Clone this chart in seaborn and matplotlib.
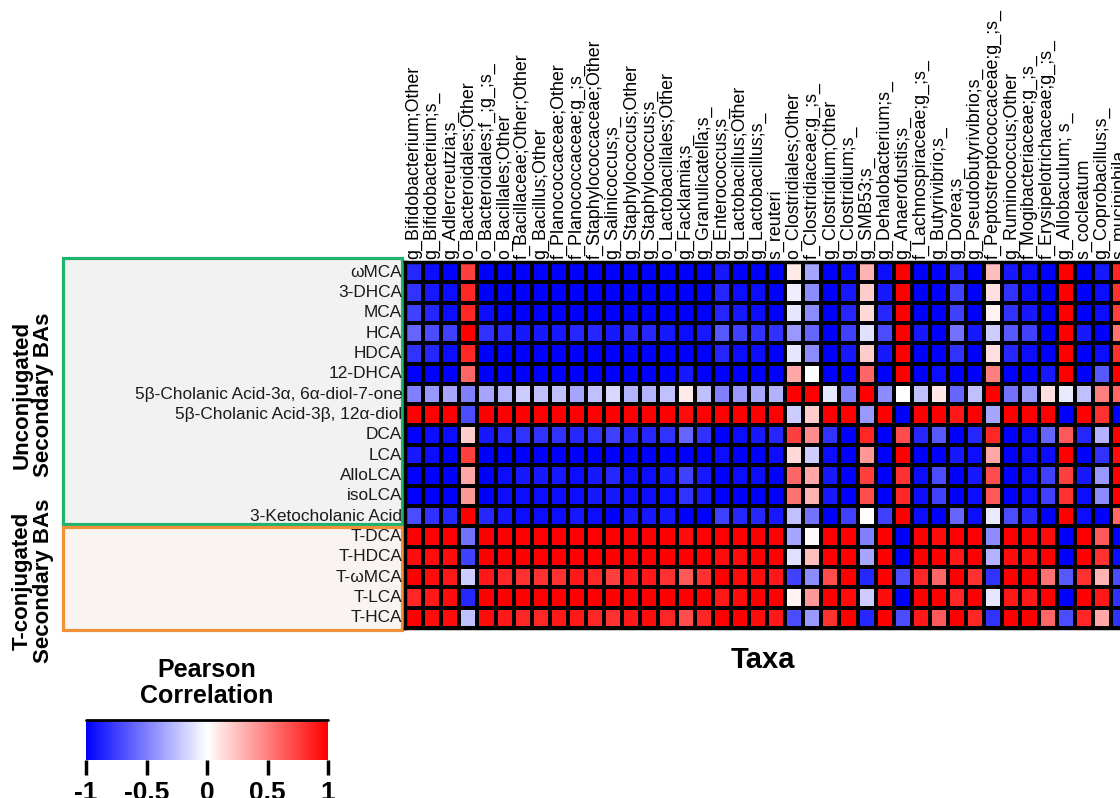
import numpy as np
import pandas as pd
import matplotlib
matplotlib.use("Agg")
import matplotlib.pyplot as plt
from matplotlib.patches import Rectangle
import seaborn as sns

# taxa along the top (the right-most ones run off the page in the original)
taxa = [
    "g_Bifidobacterium;Other", "g_Bifidobacterium;s_", "g_Adlercreutzia;s_",
    "o_Bacteroidales;Other", "o_Bacteroidales;f_;g_;s_", "o_Bacillales;Other",
    "f_Bacillaceae;Other;Other", "g_Bacillus;Other", "f_Planococcaceae;Other",
    "f_Planococcaceae;g_;s_", "f_Staphylococcaceae;Other", "g_Salinicoccus;s_",
    "g_Staphylococcus;Other", "g_Staphylococcus;s_", "o_Lactobacillales;Other",
    "g_Facklamia;s_", "g_Granulicatella;s_", "g_Enterococcus;s_",
    "g_Lactobacillus;Other", "g_Lactobacillus;s_", "s_reuteri",
    "o_Clostridiales;Other", "f_Clostridiaceae;g_;s_", "g_Clostridium;Other",
    "g_Clostridium;s_", "g_SMB53;s_", "g_Dehalobacterium;s_", "g_Anaerofustis;s_",
    "f_Lachnospiraceae;g_;s_", "g_Butyrivibrio;s_", "g_Dorea;s_",
    "g_Pseudobutyrivibrio;s_", "f_Peptostreptococcaceae;g_;s_",
    "g_Ruminococcus;Other", "f_Mogibacteriaceae;g_;s_",
    "f_Erysipelotrichaceae;g_;s_", "g_Allobaculum; s_", "s_cocleatum",
    "g_Coprobacillus;s_", "s_muciniphila",
]

bile_acids = [
    "ωMCA", "3-DHCA", "MCA", "HCA", "HDCA", "12-DHCA",
    "5β-Cholanic Acid-3α, 6α-diol-7-one", "5β-Cholanic Acid-3β, 12α-diol",
    "DCA", "LCA", "AlloLCA", "isoLCA", "3-Ketocholanic Acid",
    "T-DCA", "T-HDCA", "T-ωMCA", "T-LCA", "T-HCA",
]

# Pearson r, one list per bile acid
wmca = [-0.85, -0.95, -1, 0.75, -1, -1, -1, -1, -1, -1, -1, -1, -1, -1, -1, -1, -1, -0.9, -1, -1,
        -1, 0.08, -0.35, -1, -0.95, 0.3, -0.95, 1, -1, -1, -0.85, -1, 0.25, -0.9, -0.95, -1, 1, -1, -0.9, 0.85]
dhca3 = [-0.8, -0.9, -0.95, 0.85, -1, -1, -1, -1, -1, -1, -1, -1, -1, -1, -1, -1, -1, -0.85, -0.95, -0.95,
         -1, -0.07, -0.45, -1, -0.9, 0.2, -0.9, 1, -1, -1, -0.75, -1, 0.12, -0.8, -0.95, -1, 1, -1, -0.95, 0.8]
mca = [-0.75, -0.85, -0.95, 0.85, -0.95, -1, -1, -1, -1, -1, -1, -1, -1, -1, -1, -1, -1, -0.85, -0.9, -0.95,
       -1, -0.1, -0.45, -1, -0.85, 0.15, -0.85, 1, -1, -1, -0.75, -1, 0.05, -0.8, -0.9, -1, 1, -1, -0.95, 0.75]
hca = [-0.6, -0.7, -0.75, 1, -0.8, -0.85, -0.9, -0.9, -0.9, -0.85, -0.85, -0.9, -0.85, -0.85, -0.9, -0.95, -0.9, -0.65, -0.75, -0.8,
       -0.8, -0.4, -0.6, -1, -0.75, -0.12, -0.7, 1, -0.9, -1, -0.55, -0.9, -0.2, -0.65, -0.75, -1, 1, -0.9, -1, 0.55]
hdca = [-0.8, -0.85, -0.95, 0.85, -1, -1, -1, -1, -1, -1, -1, -1, -1, -1, -1, -1, -1, -0.85, -0.95, -0.95,
        -1, -0.1, -0.45, -1, -0.9, 0.2, -0.9, 1, -1, -1, -0.8, -1, 0.12, -0.85, -0.95, -1, 1, -1, -0.95, 0.8]
dhca12 = [-1, -1, -1, 0.6, -1, -1, -1, -1, -1, -1, -1, -1, -1, -1, -1, -0.9, -1, -1, -1, -1,
          -1, 0.35, 0.0, -1, -1, 0.6, -1, 1, -1, -0.95, -1, -1, 0.5, -1, -1, -0.9, 1, -1, -0.65, 1]
chol_7one = [-0.5, -0.4, -0.35, -0.5, -0.35, -0.3, -0.2, -0.25, -0.25, -0.35, -0.25, -0.15, -0.3, -0.3, -0.25, 0.08, -0.25, -0.5, -0.4, -0.35,
             -0.3, 1, 1, -0.1, -0.5, 1, -0.45, 0.0, -0.25, 0.1, -0.6, -0.25, 1, -0.55, -0.4, 0.12, -0.08, -0.25, 0.5, 0.6]
chol_diol = [1, 1, 1, -0.7, 1, 1, 1, 1, 1, 1, 1, 1, 1, 1, 1, 0.95, 1, 1, 1, 1,
             1, -0.2, 0.2, 1, 1, -0.4, 1, -1, 1, 1, 0.9, 1, -0.35, 1, 1, 1, -1, 1, 0.8, -1]
dca = [-1, -0.95, -0.95, 0.2, -0.9, -0.85, -0.8, -0.8, -0.8, -0.85, -0.8, -0.75, -0.85, -0.85, -0.8, -0.6, -0.8, -1, -0.95, -0.9,
       -0.85, 0.75, 0.45, -0.8, -1, 0.85, -1, 0.7, -0.85, -0.65, -1, -0.85, 0.85, -1, -0.95, -0.6, 0.65, -0.85, -0.3, 1]
lca = [-0.9, -0.95, -1, 0.75, -1, -1, -1, -1, -1, -1, -1, -1, -1, -1, -1, -1, -1, -0.95, -1, -1,
       -0.95, 0.15, -0.2, -0.95, -1, 0.4, -1, 1, -1, -1, -0.9, -0.95, 0.35, -1, -0.95, -0.95, 1, -1, -0.8, 0.95]
allolca = [-1, -1, -1, 0.35, -1, -0.95, -0.9, -0.9, -0.9, -0.95, -0.9, -0.85, -0.95, -0.95, -0.9, -0.75, -0.9, -1, -0.95, -0.95,
           -1, 0.6, 0.35, -0.9, -1, 0.75, -1, 0.8, -0.95, -0.7, -1, -0.9, 0.7, -1, -0.95, -0.75, 0.75, -0.9, -0.4, 1]
isolca = [-1, -1, -1, 0.4, -1, -0.95, -0.95, -0.95, -0.95, -0.95, -0.9, -0.9, -0.95, -0.95, -0.95, -0.8, -0.9, -1, -1, -1,
          -1, 0.55, 0.3, -0.9, -1, 0.7, -1, 0.85, -0.95, -0.75, -1, -0.95, 0.65, -1, -0.95, -0.75, 0.8, -0.95, -0.45, 1]
keto = [-0.7, -0.8, -0.85, 1, -0.85, -0.9, -0.95, -0.95, -0.95, -0.9, -0.95, -1, -0.9, -0.9, -0.9, -1, -1, -0.75, -0.85, -0.85,
        -0.9, -0.25, -0.55, -1, -0.75, 0.0, -0.75, 1, -0.95, -1, -0.6, -0.95, -0.08, -0.7, -0.85, -1, 1, -0.95, -1, 0.6]
t_dca = [1, 1, 1, -0.55, 1, 1, 1, 1, 1, 1, 1, 1, 1, 1, 1, 0.95, 1, 1, 1, 1,
         1, -0.35, 0.02, 1, 1, -0.5, 1, -1, 1, 0.95, 1, 1, -0.45, 1, 1, 0.95, -1, 1, 0.65, -1]
t_hdca = [0.95, 0.95, 0.95, -0.75, 1, 1, 1, 1, 1, 1, 1, 1, 1, 1, 1, 1, 1, 0.95, 0.95, 1,
          1, -0.12, 0.25, 1, 1, -0.35, 1, -1, 1, 1, 0.9, 1, -0.3, 0.95, 0.95, 1, -1, 1, 0.8, -0.95]
t_wmca = [1, 0.95, 0.9, -0.2, 0.9, 0.85, 0.8, 0.8, 0.8, 0.9, 0.85, 0.75, 0.9, 0.9, 0.8, 0.65, 0.8, 1, 0.95, 0.95,
          0.9, -0.75, -0.45, 0.7, 1, -0.85, 1, -0.7, 0.85, 0.6, 1, 0.8, -0.8, 1, 1, 0.55, -0.65, 0.8, 0.3, -0.7]
t_lca = [0.85, 0.9, 0.95, -0.85, 1, 1, 1, 1, 1, 1, 1, 1, 1, 1, 1, 1, 1, 0.9, 0.95, 1,
         1, 0.05, 0.4, 1, 0.95, -0.2, 0.95, -1, 1, 1, 0.85, 1, -0.1, 0.9, 0.9, 1, -1, 1, 0.9, -0.8]
t_hca = [1, 0.95, 0.95, -0.25, 0.95, 0.9, 0.85, 0.85, 0.9, 0.9, 0.85, 0.8, 0.9, 0.95, 0.85, 0.7, 0.85, 1, 1, 0.95,
         0.9, -0.7, -0.4, 0.8, 1, -0.85, 1, -0.7, 0.9, 0.65, 1, 0.85, -0.8, 1, 1, 0.6, -0.7, 0.85, 0.35, -0.8]


def main():
    rows = [wmca, dhca3, mca, hca, hdca, dhca12, chol_7one, chol_diol, dca, lca,
            allolca, isolca, keto, t_dca, t_hdca, t_wmca, t_lca, t_hca]
    df = pd.DataFrame(rows, index=bile_acids, columns=taxa)

    sns.set_theme(style="white")
    plt.rcParams["font.family"] = ["Liberation Sans", "DejaVu Sans"]
    plt.rcParams["text.color"] = "black"
    plt.rcParams["xtick.color"] = "black"
    plt.rcParams["ytick.color"] = "black"
    plt.rcParams["xtick.labelcolor"] = "black"
    plt.rcParams["ytick.labelcolor"] = "black"

    W, H = 1120, 798
    fig = plt.figure(figsize=(W / 100, H / 100), dpi=100)

    def box(x0, y0, x1, y1):
        # pixel box (top-left origin) -> figure fraction rect
        return [x0 / W, 1 - y1 / H, (x1 - x0) / W, (y1 - y0) / H]

    ax = fig.add_axes(box(405, 262, 1129, 628))
    cax = fig.add_axes(box(86, 720, 328, 760))

    sns.heatmap(df, ax=ax, cmap="bwr", vmin=-1, vmax=1,
                linewidths=1.5, linecolor="black",
                cbar_ax=cax,
                cbar_kws={"orientation": "horizontal", "ticks": [-1, -0.5, 0, 0.5, 1]})

    # taxa labels on top
    ax.xaxis.set_ticks_position("top")
    ax.set_xticks(np.arange(len(taxa)) + 0.5)
    ax.set_xticklabels(taxa, rotation=90, fontsize=12.9, color="black")
    ax.set_yticks(np.arange(len(bile_acids)) + 0.5)
    ax.set_yticklabels(bile_acids, rotation=0, fontsize=12.4, color="#1a1a1a")
    ax.tick_params(axis="both", length=0, pad=2)
    ax.set_xlabel("")
    ax.set_ylabel("")
    for s in ax.spines.values():
        s.set_visible(True)
        s.set_color("black")
        s.set_linewidth(2.5)

    # group boxes behind the row labels
    g = box(63, 258, 402, 524)
    fig.add_artist(Rectangle((g[0], g[1]), g[2], g[3], transform=fig.transFigure,
                             facecolor="#f2f2f2", edgecolor="#1fb36d", linewidth=2.3, zorder=-1))
    o = box(63, 527, 402, 630)
    fig.add_artist(Rectangle((o[0], o[1]), o[2], o[3], transform=fig.transFigure,
                             facecolor="#f9f4f1", edgecolor="#f0903a", linewidth=2.3, zorder=-1))

    fig.text(33 / W, 1 - 395 / H, "Unconjugated\nSecondary BAs", rotation=90,
             ha="center", va="center", multialignment="center",
             fontsize=16, fontweight="bold", linespacing=1.05)
    fig.text(33 / W, 1 - 581 / H, "T-conjugated\nSecondary BAs", rotation=90,
             ha="center", va="center", multialignment="center",
             fontsize=16, fontweight="bold", linespacing=1.05)

    fig.text(763 / W, 1 - 660 / H, "Taxa", ha="center", va="center",
             fontsize=21, fontweight="bold")

    # colour bar
    cbar = ax.collections[0].colorbar
    cbar.outline.set_visible(False)
    cax.plot([0, 1], [1, 1], transform=cax.transAxes, color="black", lw=2, clip_on=False)
    cbar.set_ticklabels(["-1", "-0.5", "0", "0.5", "1"])
    cax.tick_params(axis="x", length=11, width=2.5, color="black", labelcolor="black",
                    labelsize=19, pad=4, bottom=True, direction="out")
    for t in cax.get_xticklabels():
        t.set_fontweight("bold")
    fig.text(207 / W, 1 - 683 / H, "Pearson\nCorrelation", ha="center", va="center",
             fontsize=18, fontweight="bold", linespacing=1.15)

    fig.savefig("out.png", dpi=100)


if __name__ == "__main__":
    main()
